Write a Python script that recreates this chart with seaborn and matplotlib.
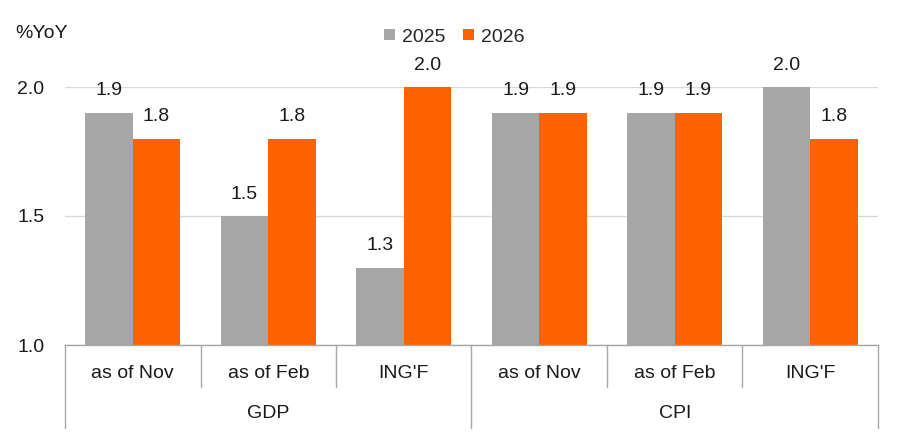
import matplotlib
matplotlib.use("Agg")
import matplotlib.pyplot as plt
import seaborn as sns
import pandas as pd
from matplotlib.lines import Line2D
from matplotlib.patches import Patch

groups = ["GDP", "GDP", "GDP", "CPI", "CPI", "CPI"]
subcats = ["as of Nov", "as of Feb", "ING'F", "as of Nov", "as of Feb", "ING'F"]
vals_2025 = [1.9, 1.5, 1.3, 1.9, 1.9, 2.0]
vals_2026 = [1.8, 1.8, 2.0, 1.9, 1.9, 1.8]
series = ["2025", "2026"]
colors = {"2025": "#A6A6A6", "2026": "#FF6200"}

keys = [f"{g}|{s}" for g, s in zip(groups, subcats)]
df = pd.DataFrame({
    "key": keys * 2,
    "year": ["2025"] * 6 + ["2026"] * 6,
    "value": vals_2025 + vals_2026,
})

sns.set_theme(style="white")
plt.rcParams["font.family"] = ["Liberation Sans Narrow", "Liberation Sans", "DejaVu Sans"]
FS = 14
TXT = "#1a1a1a"
LINE = "#A6A6A6"

fig = plt.figure(figsize=(9.01, 4.41), dpi=100)
ax = fig.add_axes([65 / 901, 1 - 345 / 441, (878 - 65) / 901, (345 - 87) / 441])

sns.barplot(data=df, x="key", y="value", hue="year", order=keys, hue_order=series,
            palette=colors, width=0.7, ax=ax, legend=False, saturation=1)
for p in ax.patches:
    p.set_linewidth(0)

ax.set_ylim(1.0, 2.0)
ax.set_xlim(-0.5, 5.5)
# bars start at the axis floor (1.0)
for c in ax.containers:
    for p in c:
        h = p.get_height()
        p.set_y(1.0)
        p.set_height(h - 1.0)

for c in ax.containers:
    for p in c:
        x = p.get_x() + p.get_width() / 2
        top = p.get_y() + p.get_height()
        ax.annotate(f"{top:.1f}", (x, top), xytext=(0, 12.5), textcoords="offset points",
                    ha="center", va="baseline", fontsize=FS, color=TXT,
                    annotation_clip=False)

ax.set_yticks([1.0, 1.5, 2.0])
ax.set_yticklabels(["1.0", "1.5", "2.0"], fontsize=FS, color=TXT)
ax.tick_params(axis="y", length=0, pad=15)
ax.yaxis.grid(True, color="#D9D9D9", linewidth=1)
ax.set_axisbelow(True)
ax.set_xticks([])
ax.set_xlabel("")
ax.set_ylabel("")
for s in ["top", "right", "left"]:
    ax.spines[s].set_visible(False)
ax.spines["bottom"].set_color(LINE)
ax.spines["bottom"].set_linewidth(1)

# two-level category axis
trans = ax.get_xaxis_transform()
ppx = 1 / (345 - 87)  # axes fraction per pixel
for i, s in enumerate(subcats):
    ax.text(i, -28 * ppx, s, transform=trans, ha="center", va="center",
            fontsize=FS, color=TXT)
for gi, g in enumerate(["GDP", "CPI"]):
    ax.text(gi * 3 + 1, -68 * ppx, g, transform=trans, ha="center", va="center",
            fontsize=FS, color=TXT)
for b in [0.5, 1.5, 3.5, 4.5]:
    ax.add_line(Line2D([b, b], [0, -42 * ppx], transform=trans, color=LINE,
                       linewidth=1, clip_on=False))
for b in [-0.5, 2.5, 5.5]:
    ax.add_line(Line2D([b, b], [0, -83 * ppx], transform=trans, color=LINE,
                       linewidth=1, clip_on=False))

fig.text(15 / 901, 1 - 34 / 441, "%YoY", ha="left", va="center", fontsize=FS, color=TXT)
handles = [Patch(facecolor=colors[s], edgecolor="none", label=s) for s in series]
fig.legend(handles=handles, loc="center", bbox_to_anchor=(454 / 901, 1 - 37 / 441),
           ncol=2, frameon=False, fontsize=FS, handlelength=0.57, handleheight=0.5,
           handletextpad=0.35, columnspacing=0.9, borderpad=0, borderaxespad=0)

fig.savefig("out.png", dpi=100)
